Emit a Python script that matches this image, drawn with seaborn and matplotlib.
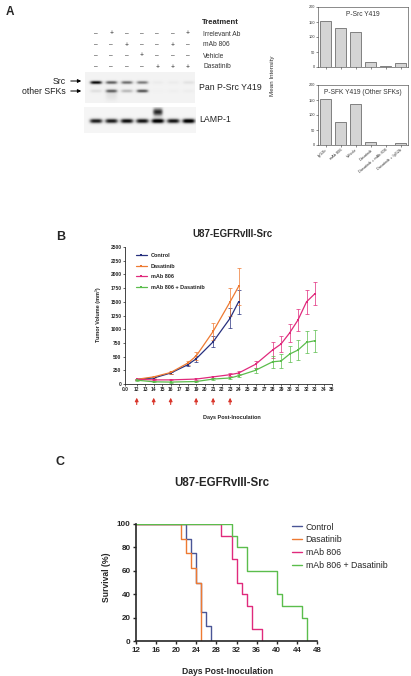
import numpy as np
import pandas as pd
import matplotlib
matplotlib.use("Agg")
import matplotlib.pyplot as plt
import seaborn as sns

# ---- panel A data ----
treatments = ["Irrelevant Ab", "mAb 806", "Vehicle", "Dasatinib"]
treatment_signs = ["-+----+", "--+--+-", "---+---", "----+++"]
src_band = [0.9, 0.6, 0.55, 0.5, 0.05, 0.05, 0.1]
sfk_band = [0.12, 0.55, 0.3, 0.65, 0.02, 0.03, 0.04]
lamp_band = [0.85, 0.85, 0.9, 0.88, 1.0, 0.88, 1.0]

bar_groups = ["IgG2b", "mAb 806", "Vehicle", "Dasatinib",
              "Dasatinib + mAb 806", "Dasatinib + IgG2b"]
psrc_vals = [155, 130, 118, 18, 5, 12]
psfk_vals = [152, 77, 136, 10, 0, 7]

# ---- panel B data ----
days_ctrl = [12, 14, 16, 18, 19, 21, 23, 24]
vol_ctrl = [85, 110, 200, 350, 460, 770, 1200, 1500]
err_ctrl = [10, 15, 20, 30, 60, 100, 180, 220]
vol_dasa = [85, 130, 210, 380, 510, 960, 1500, 1780]
err_dasa = [10, 15, 20, 40, 80, 150, 250, 330]
days_806 = [12, 14, 16, 19, 21, 23, 24, 26, 28, 29, 30, 31, 32, 33]
vol_806 = [85, 75, 75, 90, 130, 170, 200, 360, 620, 730, 930, 1170, 1500, 1650]
err_806 = [10, 10, 10, 15, 20, 30, 40, 60, 140, 150, 170, 200, 220, 210]
vol_combo = [70, 40, 35, 45, 90, 110, 150, 250, 405, 420, 545, 620, 760, 790]
err_combo = [10, 10, 10, 10, 15, 20, 30, 50, 110, 120, 150, 180, 200, 200]
dosing_days = [12, 14, 16, 19, 21, 23]

# ---- panel C data (Kaplan-Meier steps) ----
km_ctrl_t = [12, 22, 23, 24, 25, 26, 27]
km_ctrl_s = [100, 87.5, 75, 50, 25, 12.5, 0]
km_dasa_t = [12, 21, 22, 23, 24, 25]
km_dasa_s = [100, 87.5, 75, 62.5, 50, 0]
km_806_t = [12, 29, 31, 32, 33, 34, 35, 37]
km_806_s = [100, 90, 70, 50, 40, 30, 10, 0]
km_combo_t = [12, 31, 32, 34, 40, 41, 45, 46]
km_combo_s = [100, 90, 80, 60, 40, 30, 20, 0]

group_names = ["Control", "Dasatinib", "mAb 806", "mAb 806 + Dasatinib"]
colors_b = ["#27307e", "#ee7a32", "#e02a7c", "#5bbd4c"]
colors_c = ["#4a5596", "#ee7a32", "#e02a7c", "#5bbd4c"]

sns.set_style("ticks")
plt.rcParams["font.family"] = ["Liberation Sans", "DejaVu Sans"]

W, H = 411, 676
fig = plt.figure(figsize=(W / 100, H / 100), dpi=100)


def px_axes(left, top, right, bottom):
    return fig.add_axes([left / W, 1 - bottom / H, (right - left) / W, (bottom - top) / H])


# overlay in pixel coords for labels and blot images
ov = fig.add_axes([0, 0, 1, 1])
ov.set_xlim(0, W)
ov.set_ylim(H, 0)
ov.axis("off")


def blot(x0, x1, y0, y1, bands, bg):
    s = 4
    xs = x0 + (np.arange(int((x1 - x0) * s)) + 0.5) / s
    ys = y0 + (np.arange(int((y1 - y0) * s)) + 0.5) / s
    X, Y = np.meshgrid(xs, ys)
    img = np.full(X.shape, bg)
    for cx, cy, amp, w, h in bands:
        img += amp * np.exp(-((X - cx) / w) ** 4) * np.exp(-((Y - cy) / h) ** 2)
    ov.imshow(np.clip(img, 0, 1), cmap="Greys", vmin=0, vmax=1,
              extent=(x0, x1, y1, y0), aspect="auto", interpolation="bilinear")


lane_x = [96 + i * 15.3 for i in range(7)]
bands1 = []
for i, cx in enumerate(lane_x):
    bands1.append((cx, 82.5, src_band[i], 6, 1.7))
    bands1.append((cx, 91, sfk_band[i], 6, 1.7))
bands1.append((lane_x[1], 95, 0.1, 6, 6))
blot(85, 194, 72, 103, bands1, 0.1)

bands2 = [(cx, 121, lamp_band[i], 6.5, 2.4) for i, cx in enumerate(lane_x)]
bands2.append((lane_x[4], 112, 0.8, 5, 4))
blot(84, 195, 107, 133, bands2, 0.08)
ov.set_xlim(0, W)
ov.set_ylim(H, 0)

ov.text(10, 12, "A", fontsize=8.5, fontweight="bold", ha="center", va="center")
ov.text(202, 22, "Treatment", fontsize=5.5, fontweight="bold", va="center")
for r, (name, signs) in enumerate(zip(treatments, treatment_signs)):
    y = 34 + r * 11
    ov.text(203, y, name, fontsize=4.8, va="center", color="#333333")
    for i, sg in enumerate(signs):
        ov.text(lane_x[i], y, "+" if sg == "+" else "\u2013", fontsize=4.8,
                ha="center", va="center", color="#333333")
ov.text(199, 87, "Pan P-Src Y419", fontsize=6.3, va="center", color="#222222")
ov.text(199, 120, "LAMP-1", fontsize=6.3, va="center", color="#222222")
ov.text(66, 81, "Src", fontsize=6.3, ha="right", va="center", color="#222222")
ov.text(66, 91, "other SFKs", fontsize=6.3, ha="right", va="center", color="#222222")
for y in (81, 91):
    ov.annotate("", xy=(84, y), xytext=(68, y),
                arrowprops=dict(arrowstyle="-|>", lw=0.7, color="k", mutation_scale=5))
ov.text(61, 237, "B", fontsize=9, fontweight="bold", ha="center", va="center")
ov.text(60, 462, "C", fontsize=9, fontweight="bold", ha="center", va="center")
ov.text(272, 76, "Mean Intensity", fontsize=4.5, rotation=90, ha="center", va="center",
        color="#333333")

# ---- panel A bar charts ----
for top, bottom, vals, title, show_labels in [
        (7, 67, psrc_vals, "P-Src Y419", False),
        (85, 145, psfk_vals, "P-SFK Y419 (Other SFKs)", True)]:
    ax = px_axes(318, top, 408, bottom)
    sns.barplot(x=bar_groups, y=vals, color="#d4d4d4", edgecolor="#333333",
                linewidth=0.4, width=0.78, ax=ax)
    ax.set_ylim(0, 200)
    ax.set_yticks([0, 50, 100, 150, 200])
    ax.set_xlim(-0.5, 5.5)
    ax.tick_params(labelsize=2.8, length=1.2, width=0.4, pad=1, colors="#333333")
    if show_labels:
        ax.set_xticks(range(6))
        ax.set_xticklabels(bar_groups, rotation=40, ha="right", rotation_mode="anchor")
    else:
        ax.set_xticklabels([])
    for sp in ax.spines.values():
        sp.set_linewidth(0.4)
        sp.set_color("#333333")
    ax.text(0.5, 0.93, title, transform=ax.transAxes, ha="center", va="top",
            fontsize=4.8, color="#333333")
    ax.set_xlabel("")
    ax.set_ylabel("")

# ---- panel B ----
axb = px_axes(125, 247, 332, 384)
series_b = [(days_ctrl, vol_ctrl, err_ctrl), (days_ctrl, vol_dasa, err_dasa),
            (days_806, vol_806, err_806), (days_806, vol_combo, err_combo)]
for (d, v, e), name, c in zip(series_b, group_names, colors_b):
    axb.errorbar(d, v, yerr=e, fmt="none", ecolor=c, elinewidth=0.5, capsize=1.2,
                 capthick=0.5)
for (d, v, e), name, c in zip(series_b, group_names, colors_b):
    sns.lineplot(x=d, y=v, color=c, marker="s", markersize=2, markeredgewidth=0,
                 linewidth=0.9, label=name, ax=axb)
axb.set_xlim(10.62, 35)
axb.set_ylim(0, 2500)
axb.set_xticks([10.62] + list(range(12, 36)))
axb.set_xticklabels(["0.0"] + [str(i) for i in range(12, 36)])
axb.set_yticks(range(0, 2501, 250))
axb.tick_params(labelsize=3.5, length=1.5, width=0.5, pad=1)
for lab in axb.get_xticklabels() + axb.get_yticklabels():
    lab.set_fontweight("bold")
sns.despine(ax=axb)
for sp in ("left", "bottom"):
    axb.spines[sp].set_linewidth(0.6)
axb.set_xlabel("")
axb.set_ylabel("")
axb.legend(loc="upper left", bbox_to_anchor=(0.04, 0.97), frameon=False,
           prop={"weight": "bold", "size": 4}, handlelength=2, labelspacing=1.0,
           borderaxespad=0)
for d in dosing_days:
    axb.annotate("", xy=(d, -0.08), xytext=(d, -0.17),
                 xycoords=("data", "axes fraction"),
                 arrowprops=dict(arrowstyle="-|>", color="#d9352a", lw=0.8,
                                 mutation_scale=5))
ov.text(232, 234, "U87-EGFRvIII-Src", fontsize=7, fontweight="bold", ha="center",
        va="center")
ov.text(98, 315, "Tumor Volume (mm\u00b3)", fontsize=4, fontweight="bold", rotation=90,
        ha="center", va="center")
ov.text(232, 417, "Days Post-Inoculation", fontsize=4, fontweight="bold", ha="center",
        va="center")

# ---- panel C ----
axc = px_axes(136, 524, 317, 641)
series_c = [(km_ctrl_t, km_ctrl_s), (km_dasa_t, km_dasa_s),
            (km_806_t, km_806_s), (km_combo_t, km_combo_s)]
for (t, s), name, c in zip(series_c, group_names, colors_c):
    sns.lineplot(x=t, y=s, color=c, drawstyle="steps-post", linewidth=1.0,
                 label=name, ax=axc)
axc.set_xlim(12, 48)
axc.set_ylim(0, 100)
axc.set_xticks(range(12, 49, 4))
axc.set_yticks(range(0, 101, 20))
axc.tick_params(labelsize=5.8, length=2.5, width=1.0, pad=1.5)
for lab in axc.get_xticklabels() + axc.get_yticklabels():
    lab.set_fontweight("bold")
sns.despine(ax=axc)
for sp in ("left", "bottom"):
    axc.spines[sp].set_linewidth(1.2)
axc.set_xlabel("")
axc.set_ylabel("")
axc.legend(loc="upper left", bbox_to_anchor=(288 / W, 1 - 519 / H),
           bbox_transform=fig.transFigure, frameon=False, fontsize=6.3,
           handlelength=1.2, handletextpad=0.4, labelspacing=0.45, borderaxespad=0)
ov.text(222, 483, "U87-EGFRvIII-Src", fontsize=8.3, fontweight="bold", ha="center",
        va="center")
ov.text(106, 577, "Survival (%)", fontsize=6.2, fontweight="bold", rotation=90,
        ha="center", va="center")
ov.text(228, 671, "Days Post-Inoculation", fontsize=6.2, fontweight="bold",
        ha="center", va="center")

fig.savefig("out.png", dpi=100)
